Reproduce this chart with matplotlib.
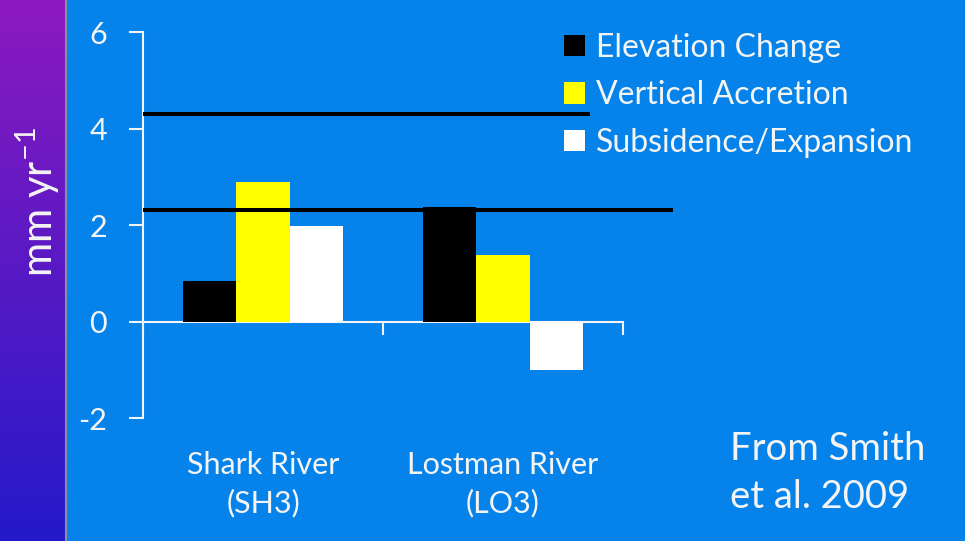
import numpy as np
import matplotlib
matplotlib.use("Agg")
import matplotlib.pyplot as plt
from matplotlib.patches import Patch
from matplotlib.lines import Line2D
from matplotlib.transforms import blended_transform_factory

# ---- data (mm per year) ----
sites = ["Shark River\n(SH3)", "Lostman River\n(LO3)"]
series = ["Elevation Change", "Vertical Accretion", "Subsidence/Expansion"]
elevation_change = [0.85, 2.38]
vertical_accretion = [2.89, 1.38]
subsidence_expansion = [1.98, -1.0]
reference_rates = [4.31, 2.32]
yticks = [-2, 0, 2, 4, 6]
source_note = "From Smith\net al. 2009"

W, H, DPI = 965, 541, 100
BLUE = "#0583ea"
WHITE = "#f4f4f4"

plt.rcParams['font.family'] = ['Lato', 'DejaVu Sans']
plt.rcParams['mathtext.fontset'] = 'custom'
plt.rcParams['mathtext.rm'] = 'Lato'

fig = plt.figure(figsize=(W / DPI, H / DPI), dpi=DPI, facecolor=BLUE)

# purple side strip with a vertical gradient
strip = fig.add_axes([0, 0, 65 / W, 1])
g = np.linspace(0, 1, 256)[:, None, None]
top = np.array([0.55, 0.10, 0.75])
bottom = np.array([0.14, 0.10, 0.79])
img = top * (1 - g) + bottom * g
strip.imshow(np.repeat(img, 4, axis=1), aspect='auto', extent=[0, 1, 0, 1])
strip.axis('off')
fig.add_artist(Line2D([65.5 / W, 65.5 / W], [0, 1], color="#8c8c9c", lw=1.5))

# main chart
ax = fig.add_axes([143 / W, (H - 418.3) / H, 480 / W, 386 / H])
ax.set_facecolor('none')
x = np.arange(len(sites))
w = 2 / 9
colors = ['black', '#ffff00', 'white']
values = [elevation_change, vertical_accretion, subsidence_expansion]
for i, (vals, c) in enumerate(zip(values, colors)):
    ax.bar(x + (i - 1) * w, vals, w, color=c, zorder=2, linewidth=0)

# reference rate lines extending past the plot area
line_ends = [1.3625, 1.708]
for rate, xe in zip(reference_rates, line_ends):
    ax.plot([-0.5, xe], [rate, rate], color='black', lw=2.9, clip_on=False,
            zorder=3, solid_capstyle='butt')

ax.set_xlim(-0.5, 1.5)
ax.set_ylim(-2, 6)
for s in ['top', 'right']:
    ax.spines[s].set_visible(False)
ax.spines['bottom'].set_position(('data', 0))
for s in ['left', 'bottom']:
    ax.spines[s].set_color(WHITE)
    ax.spines[s].set_linewidth(1.5)
    ax.spines[s].set_zorder(1)

ax.set_xticks([-0.5, 0.5, 1.5])
ax.set_xticklabels([])
ax.tick_params(axis='x', direction='out', length=9, width=1.5, color=WHITE)
ax.set_yticks(yticks)
ax.set_yticklabels([str(t) for t in yticks])
ax.tick_params(axis='y', direction='out', length=10, width=1.5, colors=WHITE,
               labelsize=22, pad=16)

trans = blended_transform_factory(ax.transData, ax.transAxes)
for xi, lab in zip(x, sites):
    ax.text(xi, -0.085, lab, transform=trans, ha='center', va='top',
            color=WHITE, fontsize=22, linespacing=1.42)

# legend
handles = [Patch(facecolor=c, edgecolor='none') for c in colors]
fig.legend(handles, series, loc='upper left', bbox_to_anchor=(564 / W, 1 - 33 / H),
           frameon=False, labelcolor=WHITE, fontsize=23, handlelength=0.65,
           handleheight=0.65, handletextpad=0.35, labelspacing=0.54,
           borderpad=0, borderaxespad=0)

fig.text(730 / W, 1 - 431 / H, source_note, ha='left', va='top', color=WHITE,
         fontsize=27.5, linespacing=1.43)

fig.text(38 / W, 1 - 202 / H, r"mm yr$^{\mathregular{-1}}$", rotation=90,
         ha='center', va='center', color=WHITE, fontsize=30)

fig.savefig("out.png", dpi=DPI, facecolor=fig.get_facecolor())
